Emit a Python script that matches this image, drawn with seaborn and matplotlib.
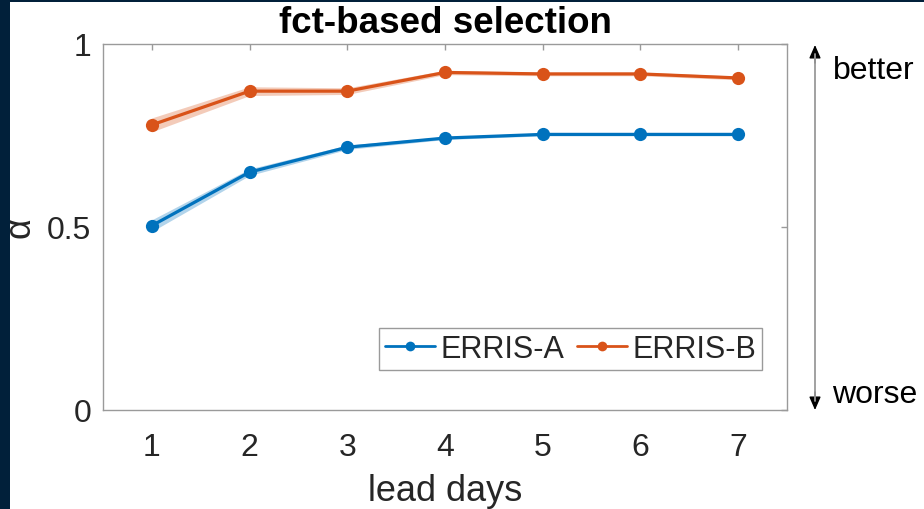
import pandas as pd
import matplotlib.pyplot as plt
import seaborn as sns
from matplotlib.lines import Line2D
from matplotlib.patches import Rectangle, FancyArrowPatch

# values
lead_days = [1, 2, 3, 4, 5, 6, 7]
erris_a = [0.503, 0.649, 0.717, 0.742, 0.752, 0.752, 0.752]
erris_a_lo = [0.487, 0.640, 0.711, 0.738, 0.748, 0.748, 0.748]
erris_a_hi = [0.519, 0.658, 0.723, 0.746, 0.756, 0.756, 0.756]
erris_b = [0.778, 0.870, 0.870, 0.921, 0.917, 0.917, 0.906]
erris_b_lo = [0.759, 0.858, 0.861, 0.915, 0.912, 0.912, 0.901]
erris_b_hi = [0.797, 0.882, 0.879, 0.927, 0.922, 0.922, 0.911]
series_names = ['ERRIS-A', 'ERRIS-B']

blue = '#0072BD'
orange = '#D95319'
spine_grey = '#9a9a9a'
txt = '#262626'

df = pd.DataFrame({
    'lead': lead_days * 2,
    'alpha': erris_a + erris_b,
    'model': [series_names[0]] * 7 + [series_names[1]] * 7,
})

sns.set_theme(style='white')
plt.rcParams['font.family'] = ['Liberation Sans', 'DejaVu Sans']

fig = plt.figure(figsize=(9.24, 5.1), dpi=100, facecolor='#01203a')
# white page, dark frame only on the left and top edge
fig.add_artist(Rectangle((10 / 924, 0), 1, (510 - 3) / 510, transform=fig.transFigure,
                         facecolor='white', edgecolor='none', zorder=-10))
ax = fig.add_axes([103 / 924, (510 - 411) / 510, 684 / 924, 366.5 / 510])
ax.set_facecolor('white')

ax.fill_between(lead_days, erris_a_lo, erris_a_hi, color=blue, alpha=0.3, linewidth=0)
ax.fill_between(lead_days, erris_b_lo, erris_b_hi, color=orange, alpha=0.3, linewidth=0)
sns.lineplot(data=df, x='lead', y='alpha', hue='model', palette=[blue, orange], ax=ax,
             marker='o', markersize=9.5, markeredgewidth=0, linewidth=2.3, legend=False)

ax.set_xlim(0.5, 7.5)
ax.set_ylim(0, 1)
ax.set_xticks(lead_days)
ax.set_yticks([0, 0.5, 1])
ax.set_yticklabels(['0', '0.5', '1'])

for s in ax.spines.values():
    s.set_color(spine_grey)
    s.set_linewidth(1)
ax.tick_params(axis='both', direction='in', top=True, right=True, length=4, width=1,
               color=spine_grey, labelsize=23, labelcolor=txt)
ax.tick_params(axis='x', pad=15.5)
ax.tick_params(axis='y', pad=8.5)

ax.set_xlabel('lead days', fontsize=26, color=txt)
ax.xaxis.set_label_coords(0.5, -0.172)
ax.set_ylabel('α', fontsize=26, color=txt)
ax.yaxis.set_label_coords(-0.096, 0.5)
ax.set_title('fct-based selection', fontsize=26.5, fontweight='bold', color='black', pad=8.3)

lab1 = Line2D([0], [0], color=blue, marker='o', markersize=7, markeredgewidth=0, linewidth=2, label='ERRIS-A')
lab2 = Line2D([0], [0], color=orange, marker='o', markersize=7, markeredgewidth=0, linewidth=2, label='ERRIS-B')
leg = ax.legend(handles=[lab1, lab2], loc='lower right', bbox_to_anchor=(0.9635, 0.109), ncol=2,
                fontsize=22, frameon=True, fancybox=False, edgecolor=spine_grey, framealpha=1,
                handlelength=1.65, handletextpad=0.17, columnspacing=0.4, borderpad=0.2,
                borderaxespad=0)
leg.get_frame().set_linewidth(1)

# better / worse arrow on the right
x_arr = 815 / 924
fig.add_artist(Line2D([x_arr, x_arr], [(510 - 55) / 510, (510 - 402) / 510], color=spine_grey,
                      linewidth=1.3, transform=fig.transFigure))
for y0, y1 in [((510 - 64) / 510, (510 - 46) / 510), ((510 - 393) / 510, (510 - 411) / 510)]:
    fig.add_artist(FancyArrowPatch((x_arr, y0), (x_arr, y1), transform=fig.transFigure,
                                   arrowstyle='-|>,head_length=8,head_width=3.5',
                                   color='black', linewidth=1, shrinkA=0, shrinkB=0))
fig.text(833 / 924, (510 - 79) / 510, 'better', fontsize=23, color='black', va='baseline', ha='left')
fig.text(832 / 924, (510 - 403) / 510, 'worse', fontsize=23, color='black', va='baseline', ha='left')

fig.savefig('out.png', dpi=100, facecolor=fig.get_facecolor())
